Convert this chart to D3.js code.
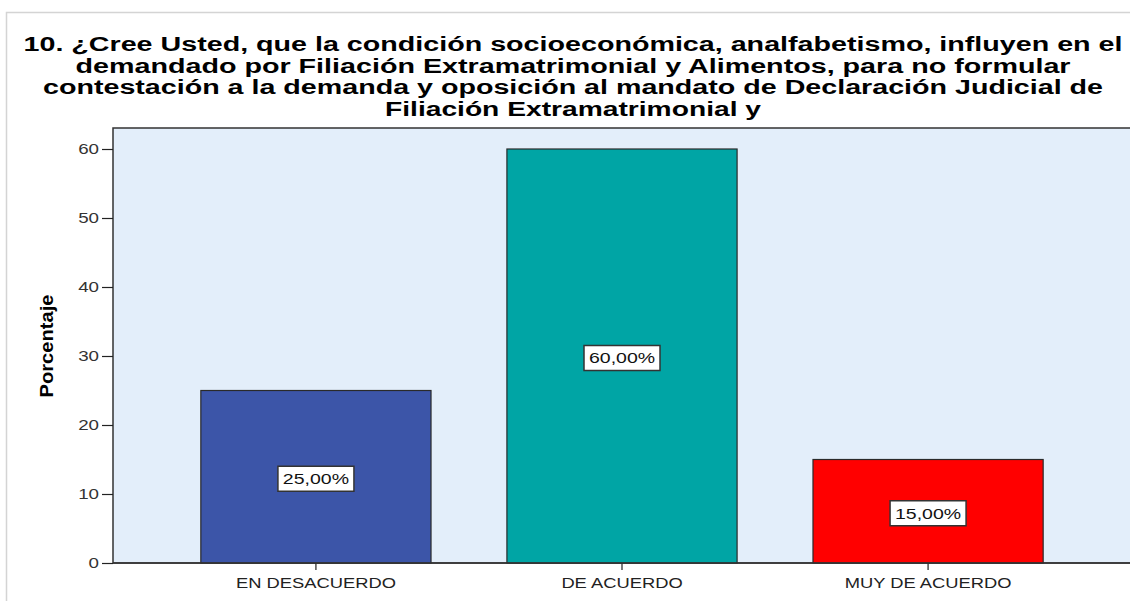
<!DOCTYPE html>
<html>
<head>
<meta charset="utf-8">
<script src="https://cdn.jsdelivr.net/npm/d3@7"></script>
<style>
  body { margin: 0; background: #fff; }
  text { font-family: "Liberation Sans", Arial, sans-serif; }
</style>
</head>
<body>
<div id="chart"></div>
<script>
// chart data
const categories = ['EN DESACUERDO', 'DE ACUERDO', 'MUY DE ACUERDO'];
const percents = [25, 60, 15];
const barLabels = ['25,00%', '60,00%', '15,00%'];
const barColors = ['#3c55a8', '#00a5a5', '#ff0000'];
const yTicks = [0, 10, 20, 30, 40, 50, 60];
const titleLines = [
  '10. ¿Cree Usted, que la condición socioeconómica, analfabetismo, influyen en el',
  'demandado por Filiación Extramatrimonial y Alimentos, para no formular',
  'contestación a la demanda y oposición al mandato de Declaración Judicial de',
  'Filiación Extramatrimonial y'
];
const titleWidths = [1099, 995, 1060, 376];

const W = 1130, H = 601;
const plot = { left: 113, top: 128, right: 1131, bottom: 563 };

// the original render has slightly wide glyphs
function stretch(sel, k) {
  sel.each(function () {
    const len = this.getComputedTextLength();
    d3.select(this)
      .attr('textLength', len * k)
      .attr('lengthAdjust', 'spacingAndGlyphs');
  });
}

const svg = d3.select('#chart')
  .append('svg')
  .attr('width', W)
  .attr('height', H);

// outer frame
svg.append('rect')
  .attr('x', 6.5).attr('y', 12.5)
  .attr('width', W + 10).attr('height', H + 10)
  .attr('fill', '#fff')
  .attr('stroke', '#d4d4d4')
  .attr('stroke-width', 1.5);

// title
svg.append('g')
  .selectAll('text')
  .data(titleLines)
  .join('text')
  .attr('x', 573)
  .attr('y', (d, i) => 51 + i * 21.7)
  .attr('text-anchor', 'middle')
  .attr('textLength', (d, i) => titleWidths[i])
  .attr('lengthAdjust', 'spacingAndGlyphs')
  .style('font-size', '19.5px')
  .style('font-weight', 'bold')
  .attr('fill', '#000')
  .text(d => d);

// scales
const x = d3.scaleBand()
  .domain(categories)
  .range([plot.left, plot.right])
  .paddingInner(0.248)
  .paddingOuter(0.287);

const y = d3.scaleLinear()
  .domain([0, 60])
  .range([plot.bottom, 149]);

// plot background
svg.append('rect')
  .attr('x', plot.left).attr('y', plot.top)
  .attr('width', plot.right - plot.left + 5)
  .attr('height', plot.bottom - plot.top)
  .attr('fill', '#e3eefa')
  .attr('stroke', '#333')
  .attr('stroke-width', 1.5);

// bars
svg.append('g')
  .selectAll('rect')
  .data(percents)
  .join('rect')
  .attr('x', (d, i) => x(categories[i]))
  .attr('y', d => y(d))
  .attr('width', x.bandwidth())
  .attr('height', d => y(0) - y(d))
  .attr('fill', (d, i) => barColors[i])
  .attr('stroke', '#2a2a2a')
  .attr('stroke-width', 1.2);

// value labels with white boxes
const lab = svg.append('g')
  .selectAll('g')
  .data(percents)
  .join('g')
  .attr('transform', (d, i) =>
    `translate(${x(categories[i]) + x.bandwidth() / 2},${(y(d) + y(0)) / 2 + 2})`);

lab.append('rect')
  .attr('x', -38).attr('y', -12.5)
  .attr('width', 76).attr('height', 25)
  .attr('fill', '#fff')
  .attr('stroke', '#333')
  .attr('stroke-width', 1.5);

lab.append('text')
  .attr('text-anchor', 'middle')
  .attr('dy', '0.36em')
  .style('font-size', '15px')
  .attr('fill', '#111')
  .text((d, i) => barLabels[i])
  .call(stretch, 1.3);

// y axis
const yAxis = svg.append('g')
  .attr('transform', `translate(${plot.left},0)`)
  .call(d3.axisLeft(y).tickValues(yTicks).tickSize(11).tickPadding(3));
yAxis.select('.domain').remove();
yAxis.selectAll('.tick line').attr('stroke', '#222').attr('stroke-width', 1.2);
yAxis.selectAll('.tick text')
  .style('font-size', '15px')
  .style('font-family', '"Liberation Sans", Arial, sans-serif')
  .attr('fill', '#333')
  .call(stretch, 1.25);

// x axis
const xAxis = svg.append('g')
  .attr('transform', `translate(0,${plot.bottom})`)
  .call(d3.axisBottom(x).tickSize(7).tickPadding(8));
xAxis.select('.domain').remove();
xAxis.selectAll('.tick line').attr('stroke', '#222').attr('stroke-width', 1.2);
xAxis.selectAll('.tick text')
  .style('font-size', '14px')
  .style('font-family', '"Liberation Sans", Arial, sans-serif')
  .attr('fill', '#222')
  .call(stretch, 1.31);

// baseline over bars
svg.append('line')
  .attr('x1', plot.left).attr('x2', W)
  .attr('y1', plot.bottom).attr('y2', plot.bottom)
  .attr('stroke', '#333')
  .attr('stroke-width', 1.5);

// y axis title
svg.append('text')
  .attr('transform', `translate(53,346) rotate(-90)`)
  .attr('text-anchor', 'middle')
  .attr('textLength', 103)
  .attr('lengthAdjust', 'spacingAndGlyphs')
  .style('font-family', '"Liberation Sans Narrow", "Arial Narrow", "Liberation Sans", sans-serif')
  .style('font-size', '19px')
  .style('font-weight', 'bold')
  .attr('fill', '#000')
  .text('Porcentaje');
</script>
</body>
</html>
